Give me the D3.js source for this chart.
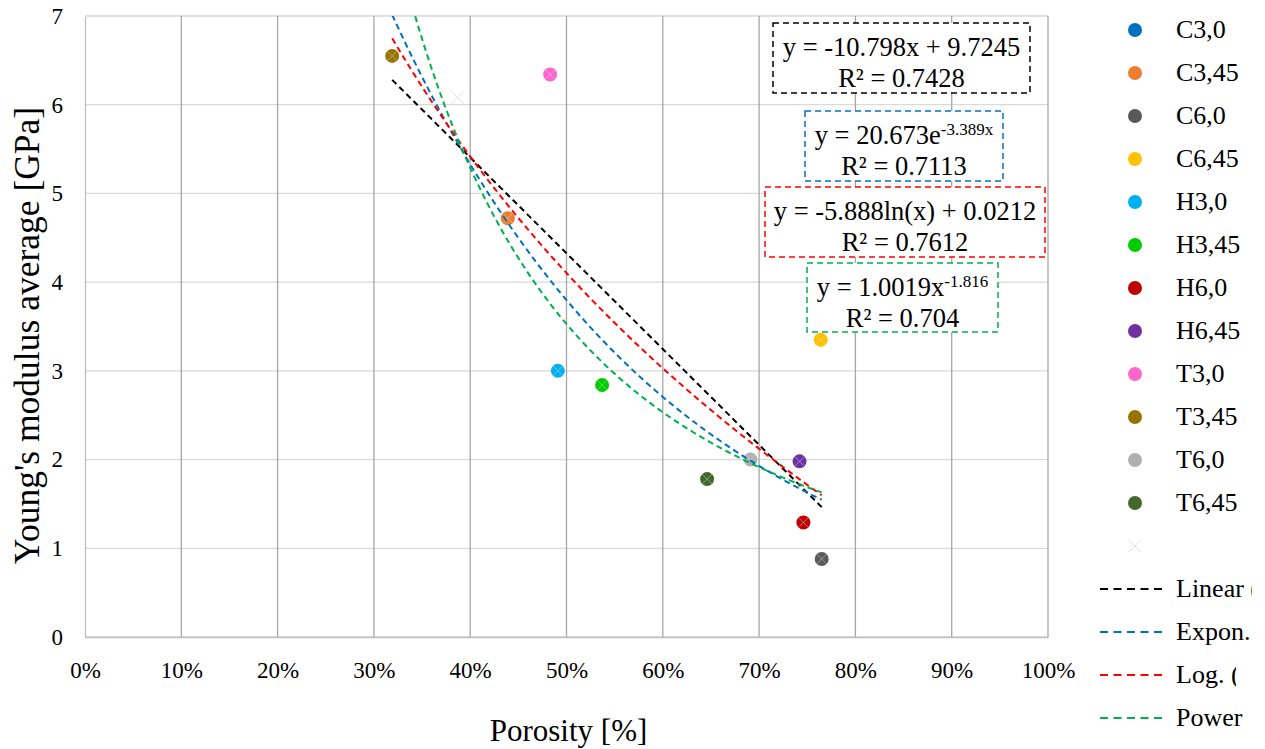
<!DOCTYPE html>
<html>
<head>
<meta charset="utf-8">
<script src="https://cdn.jsdelivr.net/npm/d3@7/dist/d3.min.js"></script>
<style>
  body { margin: 0; background: #fff; }
  svg text { font-family: "Liberation Serif", "Times New Roman", serif; fill: #000; }
</style>
</head>
<body>
<div id="chart"></div>
<script>
// series names, colours and values (porosity fraction, modulus GPa)
var seriesNames = ["C3,0", "C3,45", "C6,0", "C6,45", "H3,0", "H3,45", "H6,0", "H6,45", "T3,0", "T3,45", "T6,0", "T6,45"];
var seriesColors = ["#0070C0", "#ED7D31", "#595959", "#FFC000", "#00B0F0", "#00CC00", "#C00000", "#7030A0", "#FF66CC", "#997300", "#B0B0B0", "#43682B"];
var porosity = [null, 0.439, 0.765, 0.764, 0.491, 0.537, 0.746, 0.742, 0.483, 0.319, 0.691, 0.646];
var modulus = [null, 4.72, 0.88, 3.35, 3.00, 2.84, 1.29, 1.98, 6.34, 6.55, 2.00, 1.78];

// the unnamed "x" series (all samples together)
var allPorosity = [0.387, 0.439, 0.765, 0.764, 0.491, 0.537, 0.746, 0.742, 0.483, 0.319, 0.691, 0.646];
var allModulus = [6.08, 4.72, 0.88, 3.35, 3.00, 2.84, 1.29, 1.98, 6.34, 6.55, 2.00, 1.78];

// trend lines as printed on the chart
var trendNames = ["Linear (All)", "Expon. (All)", "Log. (All)", "Power (All)"];
var trendColors = ["#000000", "#0070C0", "#FF0000", "#00B050"];
var trendCoefA = [-10.798, 20.673, -5.888, 1.0019];
var trendCoefB = [9.7245, -3.389, 0.0212, -1.816];
var trendR2 = ["0.7428", "0.7113", "0.7612", "0.704"];

var xTicks = [0, 0.1, 0.2, 0.3, 0.4, 0.5, 0.6, 0.7, 0.8, 0.9, 1.0];
var yTicks = [0, 1, 2, 3, 4, 5, 6, 7];

var width = 1265, height = 749;
var plot = { left: 85, right: 1048, top: 16, bottom: 637 };

var svg = d3.select("#chart").append("svg")
    .attr("width", width)
    .attr("height", height);

var x = d3.scaleLinear().domain([0, 1]).range([plot.left, plot.right]);
var y = d3.scaleLinear().domain([0, 7]).range([plot.bottom, plot.top]);

// gridlines
svg.append("g").selectAll("line").data(yTicks).enter().append("line")
    .attr("x1", plot.left).attr("x2", plot.right)
    .attr("y1", function (d) { return y(d); }).attr("y2", function (d) { return y(d); })
    .attr("stroke", "#d9d9d9").attr("stroke-width", 1.3);
svg.append("g").selectAll("line").data(xTicks.slice(1)).enter().append("line")
    .attr("y1", plot.top).attr("y2", plot.bottom)
    .attr("x1", function (d) { return x(d); }).attr("x2", function (d) { return x(d); })
    .attr("stroke", "#a6a6a6").attr("stroke-width", 1.3);

// axes
var xAxis = svg.append("g")
    .attr("transform", "translate(0," + plot.bottom + ")")
    .call(d3.axisBottom(x).tickValues(xTicks).tickFormat(d3.format(".0%")).tickSize(0));
var yAxis = svg.append("g")
    .attr("transform", "translate(" + plot.left + ",0)")
    .call(d3.axisLeft(y).tickValues(yTicks).tickFormat(d3.format("d")).tickSize(0));
xAxis.attr("font-family", null);
yAxis.attr("font-family", null);
xAxis.select(".domain").attr("stroke", "#bfbfbf").attr("stroke-width", 1.3);
xAxis.selectAll(".tick text").attr("font-size", "23px").attr("y", 25).attr("dy", "0.71em");
yAxis.select(".domain").attr("stroke", "#bfbfbf").attr("stroke-width", 1.3);
yAxis.selectAll(".tick text").attr("font-size", "23px").attr("x", -22);

// axis titles
svg.append("text")
    .attr("x", (plot.left + plot.right) / 2 + 2).attr("y", 741)
    .attr("text-anchor", "middle").attr("font-size", "31px")
    .text("Porosity [%]");
svg.append("text")
    .attr("transform", "translate(39," + ((plot.top + plot.bottom) / 2 + 9) + ") rotate(-90)")
    .attr("text-anchor", "middle").attr("font-size", "35.5px")
    .text("Young's modulus average [GPa]");

// sample markers
var points = seriesNames.map(function (n, i) {
    return { name: n, color: seriesColors[i], px: porosity[i], my: modulus[i] };
}).filter(function (d) { return d.px !== null; });

svg.append("g").selectAll("circle").data(points).enter().append("circle")
    .attr("cx", function (d) { return x(d.px); })
    .attr("cy", function (d) { return y(d.my); })
    .attr("r", 7)
    .attr("fill", function (d) { return d.color; });

// "x" markers of the combined series
var crossG = svg.append("g").attr("stroke", "#dae3f3").attr("stroke-width", 1)
    .attr("stroke-opacity", 0.45);
allPorosity.forEach(function (p, i) {
    var cx = x(p), cy = y(allModulus[i]), s = 6;
    crossG.append("path")
        .attr("stroke-opacity", i === 0 ? 1 : null)
        .attr("d", "M" + (cx - s) + "," + (cy - s) + "L" + (cx + s) + "," + (cy + s) +
            "M" + (cx - s) + "," + (cy + s) + "L" + (cx + s) + "," + (cy - s));
});

// trend lines, clipped to the plot area
svg.append("clipPath").attr("id", "plotClip").append("rect")
    .attr("x", plot.left).attr("y", plot.top)
    .attr("width", plot.right - plot.left).attr("height", plot.bottom - plot.top);

function trendValue(k, p) {
    var a = trendCoefA[k], b = trendCoefB[k];
    if (k === 0) return a * p + b;
    if (k === 1) return a * Math.exp(b * p);
    if (k === 2) return a * Math.log(p) + b;
    return a * Math.pow(p, b);
}

var xMin = d3.min(allPorosity), xMax = d3.max(allPorosity);
var trendXs = d3.range(0, 101).map(function (i) { return xMin + (xMax - xMin) * i / 100; });
var line = d3.line().x(function (d) { return x(d[0]); }).y(function (d) { return y(d[1]); });

var trendG = svg.append("g").attr("clip-path", "url(#plotClip)");
trendNames.forEach(function (n, k) {
    trendG.append("path")
        .datum(trendXs.map(function (p) { return [p, trendValue(k, p)]; }))
        .attr("d", line)
        .attr("fill", "none")
        .attr("stroke", trendColors[k])
        .attr("stroke-width", 2)
        .attr("stroke-dasharray", "6,4");
});

// equation labels
var labelBoxes = [
    { x: 773, y: 23, w: 257, h: 70 },
    { x: 805, y: 111, w: 198, h: 70 },
    { x: 765, y: 187, w: 280, h: 70 },
    { x: 807, y: 263, w: 191, h: 69 }
];
labelBoxes.forEach(function (b, k) {
    var cx = b.x + b.w / 2;
    svg.append("rect")
        .attr("x", b.x).attr("y", b.y).attr("width", b.w).attr("height", b.h)
        .attr("fill", "#fff").attr("stroke", trendColors[k])
        .attr("stroke-width", 1.5).attr("stroke-dasharray", "6,4");
    var t = svg.append("text").attr("x", cx).attr("y", b.y + 33)
        .attr("text-anchor", "middle").attr("font-size", "26.5px");
    var a = trendCoefA[k], c = trendCoefB[k];
    if (k === 0) {
        t.text("y = " + a + "x + " + c);
    } else if (k === 1) {
        t.append("tspan").text("y = " + a + "e");
        t.append("tspan").attr("dy", -9).attr("font-size", "17px").text(c + "x");
    } else if (k === 2) {
        t.text("y = " + a + "ln(x) + " + c);
    } else {
        t.append("tspan").text("y = " + a + "x");
        t.append("tspan").attr("dy", -9).attr("font-size", "17px").text(c);
    }
    svg.append("text").attr("x", cx).attr("y", b.y + 64)
        .attr("text-anchor", "middle").attr("font-size", "26.5px")
        .text("R² = " + trendR2[k]);
});

// legend (the trend entries are cut short at the right edge, as in Excel)
var legend = svg.append("g");
var rowY = function (i) { return 30 + i * 43; };
var legendCut = [1252, 1252, 1236, 1247];

seriesNames.forEach(function (n, i) {
    legend.append("circle").attr("cx", 1135).attr("cy", rowY(i)).attr("r", 7)
        .attr("fill", seriesColors[i]);
    legend.append("text").attr("x", 1176).attr("y", rowY(i) + 8)
        .attr("font-size", "26px").text(n);
});
var cy12 = rowY(12);
legend.append("path")
    .attr("d", "M1129," + (cy12 - 6) + "L1141," + (cy12 + 6) + "M1129," + (cy12 + 6) + "L1141," + (cy12 - 6))
    .attr("stroke", "#dae3f3").attr("stroke-width", 1);
trendNames.forEach(function (n, k) {
    var ly = rowY(13 + k);
    svg.append("clipPath").attr("id", "legClip" + k).append("rect")
        .attr("x", 1090).attr("y", ly - 22).attr("width", legendCut[k] - 1090).attr("height", 44);
    var item = legend.append("g").attr("clip-path", "url(#legClip" + k + ")");
    item.append("line").attr("x1", 1100).attr("x2", 1164).attr("y1", ly).attr("y2", ly)
        .attr("stroke", trendColors[k]).attr("stroke-width", 2).attr("stroke-dasharray", "8,5.5");
    item.append("text").attr("x", 1176).attr("y", ly + 8)
        .attr("font-size", "26px").text(n);
});
</script>
</body>
</html>
